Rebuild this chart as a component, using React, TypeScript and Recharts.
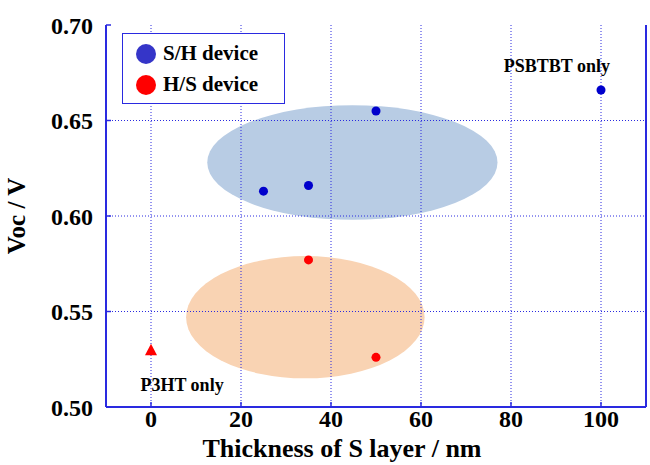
import {
  ScatterChart,
  Scatter,
  XAxis,
  YAxis,
  ZAxis,
  ReferenceArea,
  ReferenceLine,
  ReferenceDot,
  Label,
} from 'recharts';

const xTicks = [0, 20, 40, 60, 80, 100];
const yTicks = [0.5, 0.55, 0.6, 0.65, 0.7];

const shThickness = [25, 35, 50, 100];
const shVoc = [0.613, 0.616, 0.655, 0.666];

const hsThickness = [35, 50];
const hsVoc = [0.577, 0.526];

const p3htThickness = [0];
const p3htVoc = [0.53];

// ellipse regions: [x1, x2, y1, y2]
const blueRegion = [12.5, 77, 0.598, 0.658];
const orangeRegion = [7.8, 60.8, 0.515, 0.579];

const notes = [
  { x: 90.2, y: 0.6785, text: 'PSBTBT only' },
  { x: 6.9, y: 0.5115, text: 'P3HT only' },
];

const legendItems = [
  { label: 'S/H device', color: '#3535c8' },
  { label: 'H/S device', color: '#ff0000' },
];

const AXIS = '#2a2ae0';
const FONT = '"Liberation Serif", "Times New Roman", serif';

const sh = shThickness.map((x, i) => ({ x, y: shVoc[i] }));
const hs = hsThickness.map((x, i) => ({ x, y: hsVoc[i] }));
const p3ht = p3htThickness.map((x, i) => ({ x, y: p3htVoc[i] }));

const tickFont = { fill: '#000', fontFamily: FONT, fontWeight: 'bold', fontSize: 24 };
const noLabel = () => <g />;

const Ellipse = (fill: string) => (props: any) => {
  const { x, y, width, height } = props;
  return (
    <ellipse
      cx={x + width / 2}
      cy={y + height / 2}
      rx={Math.abs(width) / 2}
      ry={Math.abs(height) / 2}
      fill={fill}
    />
  );
};

const Triangle = (props: any) => {
  const { cx, cy } = props;
  return (
    <polygon
      points={`${cx},${cy - 6} ${cx - 6},${cy + 5.5} ${cx + 6},${cy + 5.5}`}
      fill="#ff0000"
    />
  );
};

const LegendBox = () => (
  <div
    style={{
      position: 'absolute',
      left: 122,
      top: 33,
      width: 163,
      height: 71,
      boxSizing: 'border-box',
      border: `1.5px solid ${AXIS}`,
      background: '#fff',
      padding: '4px 0 0 13px',
      fontFamily: FONT,
      fontWeight: 'bold',
      fontSize: 21,
      lineHeight: '31px',
    }}
  >
    {legendItems.map((item) => (
      <div key={item.label} style={{ display: 'flex', alignItems: 'center' }}>
        <span
          style={{
            display: 'inline-block',
            width: 20,
            height: 20,
            borderRadius: '50%',
            background: item.color,
            marginRight: 7,
          }}
        />
        {item.label}
      </div>
    ))}
  </div>
);

export default function App() {
  return (
    <div style={{ position: 'absolute', left: 0, top: 0, background: '#fff' }}>
      <ScatterChart
        width={650}
        height={465}
        margin={{ top: 25, right: 3, bottom: 0, left: 0 }}
      >
        <ZAxis range={[110, 110]} />
        <XAxis
          type="number"
          dataKey="x"
          domain={[-10, 110]}
          ticks={xTicks}
          allowDataOverflow
          height={58}
          axisLine={{ stroke: AXIS, strokeWidth: 2 }}
          tickLine={{ stroke: AXIS, strokeWidth: 1.5 }}
          tickSize={-5}
          tickMargin={8}
          tick={tickFont}
        >
          <Label
            value="Thickness of S layer / nm"
            position="insideBottom"
            offset={8}
            dx={-34}
            style={{ fill: '#000', fontFamily: FONT, fontWeight: 'bold', fontSize: 26 }}
          />
        </XAxis>
        <XAxis
          xAxisId="top"
          orientation="top"
          type="number"
          domain={[-10, 110]}
          ticks={xTicks}
          height={0}
          tick={noLabel}
          tickLine={{ stroke: AXIS, strokeWidth: 1.5 }}
          tickSize={-5}
          axisLine={{ stroke: AXIS, strokeWidth: 2 }}
        />
        <YAxis
          type="number"
          dataKey="y"
          domain={[0.5, 0.7]}
          ticks={yTicks}
          allowDataOverflow
          width={106}
          axisLine={{ stroke: AXIS, strokeWidth: 2 }}
          tickLine={{ stroke: AXIS, strokeWidth: 1.5 }}
          tickSize={-5}
          tickMargin={18}
          tickFormatter={(v: number) => v.toFixed(2)}
          tick={tickFont}
        >
          <Label
            value="Voc / V"
            angle={-90}
            position="insideLeft"
            offset={16}
            style={{
              textAnchor: 'middle',
              fill: '#000',
              fontFamily: FONT,
              fontWeight: 'bold',
              fontSize: 25,
            }}
          />
        </YAxis>
        <YAxis
          yAxisId="right"
          orientation="right"
          type="number"
          domain={[0.5, 0.7]}
          ticks={yTicks}
          width={1}
          tick={noLabel}
          tickLine={{ stroke: AXIS, strokeWidth: 1.5 }}
          tickSize={-5}
          axisLine={{ stroke: AXIS, strokeWidth: 2 }}
        />

        <ReferenceArea
          x1={blueRegion[0]}
          x2={blueRegion[1]}
          y1={blueRegion[2]}
          y2={blueRegion[3]}
          shape={Ellipse('#b8cce4')}
        />
        <ReferenceArea
          x1={orangeRegion[0]}
          x2={orangeRegion[1]}
          y1={orangeRegion[2]}
          y2={orangeRegion[3]}
          shape={Ellipse('#f9d3b3')}
        />

        {xTicks.map((t) => (
          <ReferenceLine
            key={`vx-${t}`}
            x={t}
            stroke={AXIS}
            strokeWidth={1}
            strokeDasharray="1 2"
          />
        ))}
        {yTicks.slice(1, -1).map((t) => (
          <ReferenceLine
            key={`hy-${t}`}
            y={t}
            stroke={AXIS}
            strokeWidth={1}
            strokeDasharray="1 2"
          />
        ))}

        {notes.map((n) => (
          <ReferenceDot
            key={n.text}
            x={n.x}
            y={n.y}
            r={0}
            shape={(p: any) => (
              <text
                x={p.cx}
                y={p.cy}
                textAnchor="middle"
                dominantBaseline="central"
                fontFamily={FONT}
                fontWeight="bold"
                fontSize={18}
                fill="#000"
              >
                {n.text}
              </text>
            )}
          />
        ))}

        <Scatter data={sh} fill="#0000cc" isAnimationActive={false} shape="circle" />
        <Scatter data={hs} fill="#ff0000" isAnimationActive={false} />
        <Scatter data={p3ht} fill="#ff0000" isAnimationActive={false} shape={Triangle} />
      </ScatterChart>
      <LegendBox />
    </div>
  );
}
